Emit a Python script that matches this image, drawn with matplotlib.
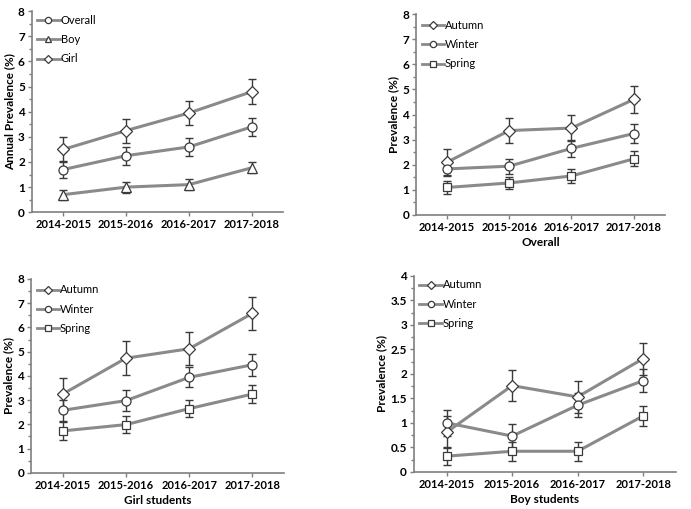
import matplotlib
matplotlib.use("Agg")
import matplotlib.pyplot as plt
from matplotlib.ticker import MultipleLocator, FuncFormatter

plt.rcParams['font.family'] = ['Lato', 'DejaVu Sans']

years = ["2014-2015", "2015-2016", "2016-2017", "2017-2018"]

# Panel 1: annual prevalence
overall = [1.7, 2.25, 2.6, 3.4]
overall_err = [0.35, 0.36, 0.36, 0.35]
boy = [0.7, 1.0, 1.1, 1.77]
boy_err = [0.2, 0.22, 0.22, 0.22]
girl = [2.5, 3.25, 3.95, 4.8]
girl_err = [0.5, 0.48, 0.48, 0.5]

# Panel 2: overall by season
ov_autumn = [2.1, 3.36, 3.46, 4.6]
ov_autumn_err = [0.53, 0.5, 0.53, 0.52]
ov_winter = [1.83, 1.94, 2.65, 3.24]
ov_winter_err = [0.3, 0.3, 0.33, 0.37]
ov_spring = [1.09, 1.27, 1.55, 2.23]
ov_spring_err = [0.25, 0.25, 0.27, 0.3]

# Panel 3: girl students by season
g_autumn = [3.25, 4.73, 5.12, 6.58]
g_autumn_err = [0.66, 0.69, 0.68, 0.69]
g_winter = [2.58, 2.98, 3.94, 4.46]
g_winter_err = [0.43, 0.43, 0.41, 0.46]
g_spring = [1.73, 1.99, 2.65, 3.25]
g_spring_err = [0.36, 0.34, 0.34, 0.37]

# Panel 4: boy students by season
b_autumn = [0.81, 1.76, 1.53, 2.31]
b_autumn_err = [0.32, 0.31, 0.32, 0.33]
b_winter = [1.0, 0.73, 1.36, 1.86]
b_winter_err = [0.26, 0.24, 0.25, 0.23]
b_spring = [0.32, 0.42, 0.42, 1.14]
b_spring_err = [0.19, 0.19, 0.19, 0.2]

LINE = "#8a8a8a"
ERR = "#3a3a3a"
AX = "#7f7f7f"

fig = plt.figure(figsize=(6.91, 5.09), dpi=100)

def panel(rect, series, ylabel, ymax, major, minor, xlabel=None, legy=1.0):
    ax = fig.add_axes(rect)
    x = list(range(len(years)))
    for label, vals, errs, mk, ms in series:
        ax.errorbar(x, vals, yerr=errs, fmt='none', ecolor=ERR, elinewidth=1.0,
                    capsize=2.8, capthick=1.0, zorder=2)
        ax.plot(x, vals, color=LINE, lw=2.2, zorder=1)
        ax.plot(x, vals, linestyle='none', marker=mk, ms=ms, mfc='white',
                mec=ERR, mew=0.9, zorder=3)
        ax.plot([], [], color=LINE, lw=2.0, marker=mk, ms=ms - 2.0, mfc='white',
                mec=ERR, mew=0.9, label=label)
    ax.set_xlim(-0.5, 3.5)
    ax.set_ylim(0, ymax)
    ax.set_xticks(x)
    ax.set_xticklabels(years, fontsize=8, fontweight='bold')
    ax.yaxis.set_major_locator(MultipleLocator(major))
    ax.yaxis.set_minor_locator(MultipleLocator(minor))
    ax.yaxis.set_major_formatter(FuncFormatter(lambda v, p: f"{v:g}"))
    for lab in ax.get_yticklabels():
        lab.set_fontsize(8.5)
        lab.set_fontweight('bold')
    ax.set_ylabel(ylabel, fontsize=8.5, fontweight='bold', labelpad=2)
    if xlabel:
        ax.set_xlabel(xlabel, fontsize=8.5, fontweight='bold', labelpad=3)
    for s in ['top', 'right']:
        ax.spines[s].set_visible(False)
    for s in ['left', 'bottom']:
        ax.spines[s].set_color(AX)
        ax.spines[s].set_linewidth(1.2)
    ax.tick_params(axis='both', which='major', direction='out', length=3,
                   color=AX, width=1, pad=2)
    ax.tick_params(axis='y', which='minor', direction='out', length=2,
                   color=AX, width=1)
    ax.tick_params(axis='x', which='minor', length=0)
    ax.legend(loc='upper left', frameon=False, fontsize=8,
              handlelength=2.0, handletextpad=0.1, labelspacing=0.75,
              borderaxespad=0.1, bbox_to_anchor=(0.0, legy))
    return ax

panel([0.046, 0.583, 0.364, 0.395],
      [("Overall", overall, overall_err, 'o', 6.5),
       ("Boy", boy, boy_err, '^', 6.5),
       ("Girl", girl, girl_err, 'D', 6.5)],
      "Annual Prevalence (%)", 8, 1, 0.5, legy=1.01)

panel([0.602, 0.578, 0.360, 0.394],
      [("Autumn", ov_autumn, ov_autumn_err, 'D', 6.5),
       ("Winter", ov_winter, ov_winter_err, 'o', 6.5),
       ("Spring", ov_spring, ov_spring_err, 's', 5.8)],
      "Prevalence (%)", 8, 1, 0.5, xlabel="Overall", legy=1.0)

panel([0.045, 0.071, 0.366, 0.381],
      [("Autumn", g_autumn, g_autumn_err, 'D', 6.5),
       ("Winter", g_winter, g_winter_err, 'o', 6.5),
       ("Spring", g_spring, g_spring_err, 's', 5.8)],
      "Prevalence (%)", 8, 1, 0.5, xlabel="Girl students", legy=1.0)

panel([0.599, 0.073, 0.379, 0.385],
      [("Autumn", b_autumn, b_autumn_err, 'D', 6.5),
       ("Winter", b_winter, b_winter_err, 'o', 6.5),
       ("Spring", b_spring, b_spring_err, 's', 5.8)],
      "Prevalence (%)", 4, 0.5, 0.25, xlabel="Boy students", legy=1.01)

fig.savefig("out.png", dpi=100)
